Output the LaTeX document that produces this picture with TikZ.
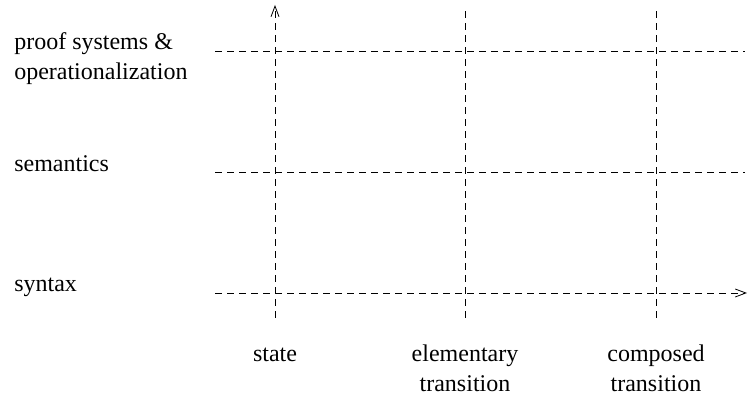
\documentclass[tikz,border=0pt]{standalone}
\usepackage{fontspec}
\setmainfont{Liberation Serif}
\usetikzlibrary{arrows.meta, positioning}
\tikzstyle{grid}  = [dash pattern=on 5pt off 4pt, line width=0.6pt]
\tikzstyle{axis}  = [grid, -{Straight Barb[length=8pt,width=6pt]}]
\tikzstyle{label} = [font=\fontsize{18}{23}\selectfont, inner sep=0pt]

\begin{document}
\begin{tikzpicture}[x=0.75pt, y=-0.75pt]
    \useasboundingbox (0,0) rectangle (751,398);

    % ends of the lines
    \coordinate (h1a) at (215,51);  \coordinate (h1b) at (745,51);
    \coordinate (h2a) at (215,172); \coordinate (h2b) at (745,172);
    \coordinate (h3a) at (215,293); \coordinate (h3b) at (747,293);
    \coordinate (v1a) at (275,318); \coordinate (v1b) at (275,5);
    \coordinate (v2a) at (465,318); \coordinate (v2b) at (465,10);
    \coordinate (v3a) at (656,318); \coordinate (v3b) at (656,10);

    \node (proof) [label, anchor=base west, align=left] at (14,80)
        {proof systems \&\\operationalization};
    \node (sem)   [label, anchor=base west] at (14,172) {semantics};
    \node (syn)   [label, anchor=base west] at (14,292) {syntax};

    \node (state) [label, anchor=base] at (275,362) {state};
    \node (elem)  [label, anchor=base, align=center] at (465,392) {elementary\\transition};
    \node (comp)  [label, anchor=base, align=center] at (656,392) {composed\\transition};

    \draw [grid] (h1a) -- (h1b);
    \draw [grid] (h2a) -- (h2b);
    \draw [axis] (h3a) -- (h3b);
    \draw [axis] (v1a) -- (v1b);
    \draw [grid] (v2a) -- (v2b);
    \draw [grid] (v3a) -- (v3b);
\end{tikzpicture}
\end{document}
